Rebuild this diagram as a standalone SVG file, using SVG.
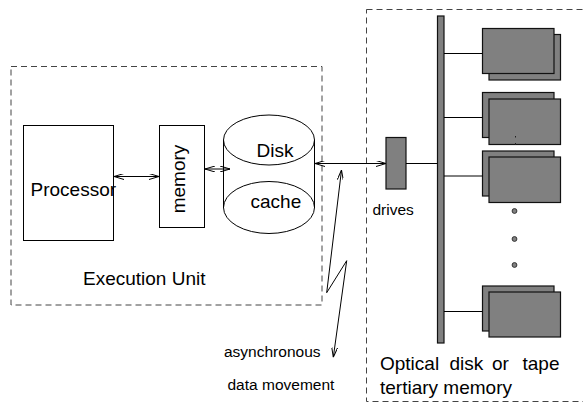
<svg xmlns="http://www.w3.org/2000/svg" width="583" height="403" viewBox="0 0 583 403">
<defs>
<marker id="arr" viewBox="0 0 10 6" refX="10" refY="3" markerWidth="10" markerHeight="6" markerUnits="userSpaceOnUse" orient="auto-start-reverse">
<path d="M0,0 L10,3 L0,6" fill="none" stroke="#000" stroke-width="1"/>
</marker>
</defs>
<style>
.box{fill:none;stroke:#000;stroke-width:1}
.dash{fill:none;stroke:#444;stroke-width:1;stroke-dasharray:6 4}
.dev{fill:#808080;stroke:#111;stroke-width:1.2}
.line{fill:none;stroke:#000;stroke-width:1}
.t{font-family:"Liberation Sans",Arial,sans-serif;fill:#000}
.big{font-size:19px}
.sm{font-size:15.5px}
</style>
<rect width="583" height="403" fill="#fff"/>

<g id="execution-unit">
<rect class="dash" x="11" y="66.5" width="311" height="238.5"/>
<text class="t big" x="83" y="285">Execution Unit</text>
</g>

<g id="tertiary">
<rect class="dash" x="366.5" y="9.5" width="230" height="392"/>
<text class="t big" y="370"><tspan x="380">Optical</tspan><tspan x="449.5">disk</tspan><tspan x="492">or</tspan><tspan x="522.5">tape</tspan></text>
<text class="t big" x="380" y="394">tertiary memory</text>
</g>

<g id="processor">
<rect class="box" x="23.5" y="125.5" width="90" height="115"/>
<text class="t big" x="30.5" y="195.5">Processor</text>
</g>

<g id="memory">
<rect class="box" x="159.5" y="125.5" width="45" height="102"/>
<text class="t big" transform="translate(184.5,179) rotate(-90)" text-anchor="middle">memory</text>
</g>

<g id="disk-cache">
<line class="line" x1="223.5" y1="140" x2="223.5" y2="208"/>
<line class="line" x1="314.5" y1="140" x2="314.5" y2="208"/>
<ellipse class="box" cx="269" cy="140" rx="45.5" ry="25"/>
<ellipse class="box" cx="269" cy="207.5" rx="45.5" ry="26"/>
<text class="t big" x="256.5" y="156.5">Disk</text>
<text class="t big" x="250.5" y="208">cache</text>
</g>

<g id="drives">
<rect class="dev" x="386" y="137.5" width="20" height="51.5"/>
<text class="t" style="font-size:15.5px" x="372.5" y="215">drives</text>
</g>

<g id="bus">
<rect class="dev" x="437.5" y="16" width="6.5" height="327"/>
</g>

<g id="device1">
<rect class="dev" x="489" y="34.5" width="71.5" height="45.5"/>
<rect class="dev" x="482.5" y="28.5" width="71.5" height="45"/>
</g>
<g id="device2">
<rect class="dev" x="482.5" y="92.5" width="71.5" height="45"/>
<rect class="dev" x="489" y="99" width="71.5" height="45.5"/>
<line x1="515.5" y1="136" x2="515.5" y2="137.5" stroke="#222" stroke-width="1"/>
<line x1="515.5" y1="143" x2="515.5" y2="145" stroke="#222" stroke-width="1"/>
</g>
<g id="device3">
<rect class="dev" x="482.5" y="151" width="71.5" height="45"/>
<rect class="dev" x="489" y="157" width="71.5" height="45.5"/>
</g>
<g id="dots">
<circle cx="514.5" cy="211" r="2.4" fill="#808080" stroke="#333" stroke-width="1"/>
<circle cx="514.5" cy="239" r="2.4" fill="#808080" stroke="#333" stroke-width="1"/>
<circle cx="514.5" cy="265" r="2.4" fill="#808080" stroke="#333" stroke-width="1"/>
</g>
<g id="device4">
<rect class="dev" x="482.5" y="286" width="71.5" height="45"/>
<rect class="dev" x="489" y="292" width="71.5" height="45"/>
</g>

<g id="async-label">
<text class="t sm" x="224" y="356.5">asynchronous</text>
<text class="t sm" x="227.5" y="390">data movement</text>
</g>

<g id="connectors">
<line class="line" x1="114" y1="176.5" x2="159" y2="176.5" marker-start="url(#arr)" marker-end="url(#arr)"/>
<line class="line" x1="205" y1="169" x2="230" y2="169" marker-start="url(#arr)" marker-end="url(#arr)"/>
<line class="line" x1="315" y1="163.5" x2="386" y2="163.5" marker-start="url(#arr)" marker-end="url(#arr)"/>
<line class="line" x1="406" y1="163.5" x2="437.5" y2="163.5"/>
<line class="line" x1="444" y1="53.5" x2="482.5" y2="53.5"/>
<line class="line" x1="444" y1="117.5" x2="482.5" y2="117.5"/>
<line class="line" x1="444" y1="176" x2="482.5" y2="176"/>
<line class="line" x1="444" y1="311.5" x2="482.5" y2="311.5"/>
<polyline class="line" points="341.5,170 326.7,292.7 346.7,260.7 333.3,357.3" marker-start="url(#arr)" marker-end="url(#arr)"/>
</g>
</svg>
